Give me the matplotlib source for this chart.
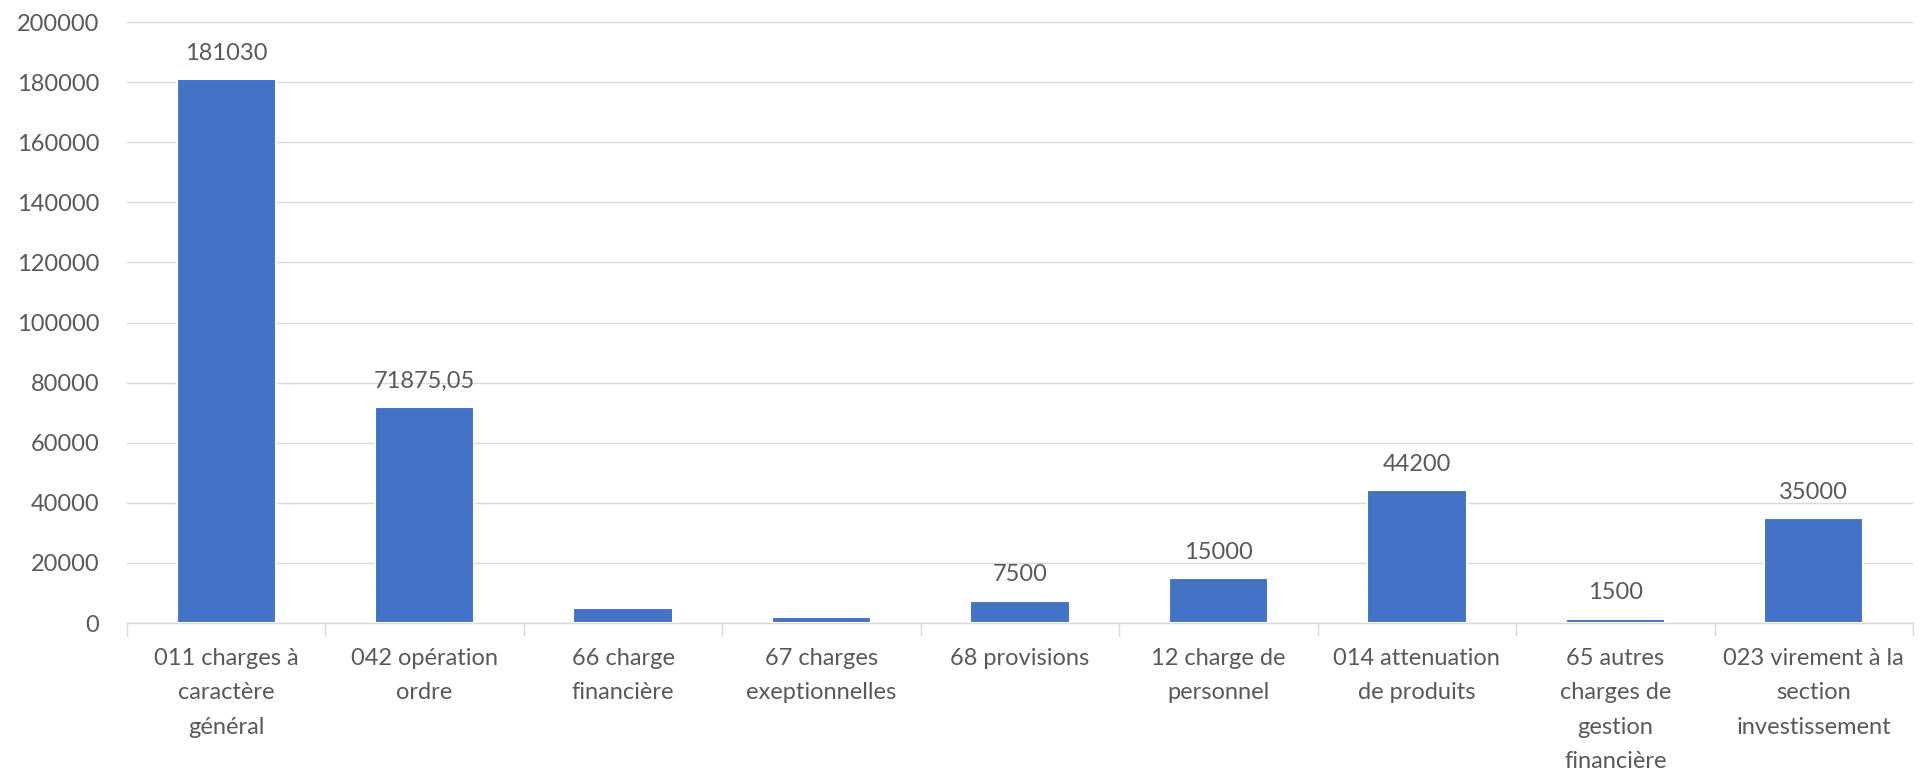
import matplotlib
matplotlib.use("Agg")
import matplotlib.pyplot as plt
import numpy as np

categories = [
    "011 charges à\ncaractère\ngénéral",
    "042 opération\nordre",
    "66 charge\nfinancière",
    "67 charges\nexeptionnelles",
    "68 provisions",
    "12 charge de\npersonnel",
    "014 attenuation\nde produits",
    "65 autres\ncharges de\ngestion\nfinancière",
    "023 virement à la\nsection\ninvestissement",
]
values = [181030, 71875.05, 5000, 2000, 7500, 15000, 44200, 1500, 35000]
value_labels = ["181030", "71875,05", None, None, "7500", "15000", "44200", "1500", "35000"]
yticks = [0, 20000, 40000, 60000, 80000, 100000, 120000, 140000, 160000, 180000, 200000]

plt.rcParams['font.family'] = ['Lato', 'DejaVu Sans']
text_color = "#595959"
grid_color = "#D9D9D9"
bar_color = "#4472C4"

fig = plt.figure(figsize=(19.32, 7.75), dpi=100)
ax = fig.add_axes([0.0657, 0.196, 0.9245, 0.7756])

x = np.arange(len(categories))
bars = ax.bar(x, values, width=0.5, color=bar_color, edgecolor="white", linewidth=1.5, zorder=3)

for xi, v, lab in zip(x, values, value_labels):
    if lab is not None:
        ax.annotate(lab, (xi, v), xytext=(0, 11), textcoords="offset points",
                    ha="center", va="bottom", fontsize=17, color=text_color)

ax.set_xlim(-0.5, len(categories) - 0.5)
ax.set_ylim(0, 200000)
ax.set_yticks(yticks)
ax.set_yticklabels([str(t) for t in yticks])
ax.yaxis.grid(True, color=grid_color, linewidth=1.0, zorder=0)
ax.set_axisbelow(True)

ax.set_xticks(x)
ax.set_xticklabels(categories, fontsize=17, color=text_color, linespacing=1.78)
ax.set_xticks(np.arange(-0.5, len(categories) + 0.5, 1.0), minor=True)
ax.tick_params(axis="x", which="major", length=0, pad=18)
ax.tick_params(axis="x", which="minor", length=9, color=grid_color, width=1.0)
ax.tick_params(axis="y", length=0, pad=20, labelsize=17, labelcolor=text_color)

for s in ["top", "right", "left"]:
    ax.spines[s].set_visible(False)
ax.spines["bottom"].set_color(grid_color)
ax.spines["bottom"].set_linewidth(1.0)

fig.savefig("out.png", dpi=100, facecolor="white")
